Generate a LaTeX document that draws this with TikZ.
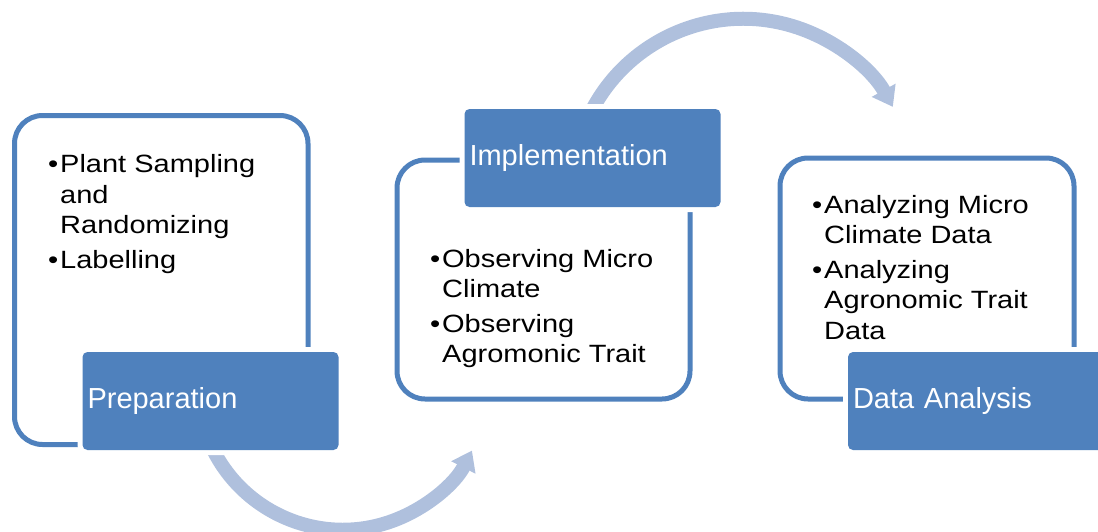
\documentclass[tikz,border=0pt]{standalone}
\usepackage{fontspec}
\setmainfont{Liberation Sans}
\newfontfamily\bodyfont[FakeStretch=1.16]{Liberation Sans}
\usetikzlibrary{arrows.meta}
\definecolor{accent}{RGB}{79,129,189}
\definecolor{arrowblue}{RGB}{175,192,221}
\newlength\bulw \setlength\bulw{12pt}
\newcommand{\bitem}[1]{\par\hangindent=\bulw\hangafter=1\noindent\makebox[\bulw][l]{•}#1\par}
\newcommand{\bodytext}[1]{\parbox[t]{300pt}{\bodyfont\fontsize{25pt}{30.5pt}\selectfont #1}}
\tikzset{
  stagebox/.style={draw=accent, line width=5pt, fill=white, rounded corners=28pt, inner sep=0pt},
  stagelabel/.style={fill=accent, rounded corners=5pt, preaction={draw=white, line width=10pt},
    text=white, font=\fontsize{29pt}{34pt}\selectfont, minimum height=98pt,
    text width=246pt, align=left, inner xsep=5pt, inner ysep=0pt},
  flow/.style={draw=arrowblue, line width=14pt, -{Triangle[width=26pt,length=19pt]}},
  bodynode/.style={anchor=base west, inner sep=0pt}
}
\begin{document}
\begin{tikzpicture}[x=1pt,y=-1pt]
\useasboundingbox (0,0) rectangle (1098,531);
\clip (0,0) rectangle (1098,531);
% outer boxes
\node[stagebox, minimum width=293.5pt, minimum height=329pt] (prepbox) at (161.25,280) {};
\node[stagebox, minimum width=293pt, minimum height=239pt] (implbox) at (543.5,279.5) {};
\node[stagebox, minimum width=294pt, minimum height=241pt] (databox) at (927,278.5) {};
% arrows
\coordinate (a1s) at (206.5,434.3);
\coordinate (a2s) at (582.6,131.3);
\draw[flow] (a1s) arc[start angle=200, end angle=333, radius=145pt];
\draw[flow] (a2s) arc[start angle=160, end angle=29, radius=171pt];
% body texts
\node[bodynode] (preptext) at (48,172.7) {\bodytext{\bitem{Plant Sampling\newline and\newline Randomizing}\vspace{4pt}\bitem{Labelling}}};
\node[bodynode] (impltext) at (430,267) {\bodytext{\bitem{Observing Micro\newline Climate}\vspace{4pt}\bitem{Observing\newline Agromonic Trait}}};
\node[bodynode] (datatext) at (812,213) {\bodytext{\bitem{Analyzing Micro\newline Climate Data}\vspace{4pt}\bitem{Analyzing\newline Agronomic Trait\newline Data}}};
% labels
\node[stagelabel] (prep) at (210.5,401) {Preparation};
\node[stagelabel] (impl) at (592.5,158) {Implementation};
\node[stagelabel] (data) at (976,401) {Data Analysis};
\end{tikzpicture}
\end{document}
